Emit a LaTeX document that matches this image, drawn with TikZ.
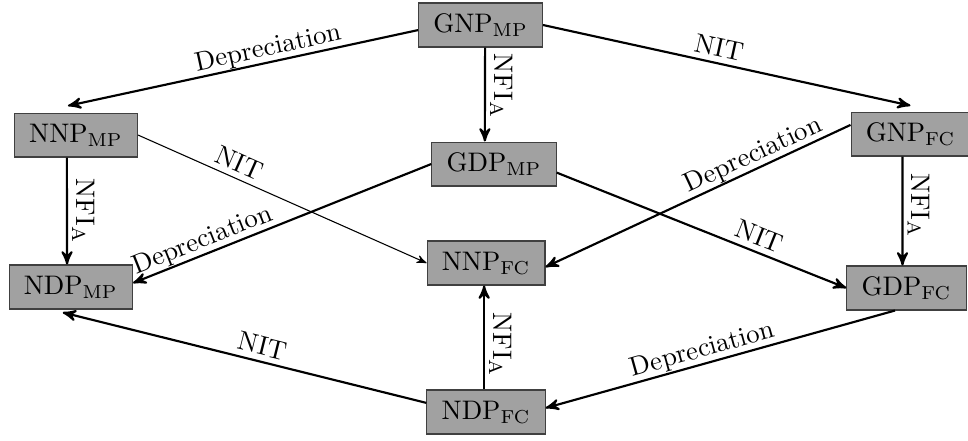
\documentclass[tikz,border=0pt]{standalone}
\usepackage{amssymb}
\usepackage{color}
\usepackage{tikz}
\usetikzlibrary{arrows}

\definecolor{boxgray}{gray}{0.63}
\definecolor{rimgray}{gray}{0.25}

\begin{document}
\begin{tikzpicture}[>=stealth',
    acct/.style={draw=rimgray,fill=boxgray,thin,inner xsep=5.5pt,minimum height=16.4pt},
    elbl/.style={above,sloped,inner sep=.5pt,text depth=1.6pt},
    vlbl/.style={rotate=-90,anchor=south,inner sep=1.5pt}]
  \useasboundingbox (0,0) rectangle (12.687,5.767);
  \node[acct] (GNPmp) at (6.298,5.439) {GNP$_\mathrm{MP}$};
  \node[acct] (NNPmp) at (0.996,3.997) {NNP$_\mathrm{MP}$};
  \node[acct] (GDPmp) at (6.474,3.617) {GDP$_\mathrm{MP}$};
  \node[acct] (GNPfc) at (11.933,4.010) {GNP$_\mathrm{FC}$};
  \node[acct] (NDPmp) at (0.928,2.005) {NDP$_\mathrm{MP}$};
  \node[acct] (NNPfc) at (6.370,2.320) {NNP$_\mathrm{FC}$};
  \node[acct] (GDPfc) at (11.881,1.992) {GDP$_\mathrm{FC}$};
  \node[acct] (NDPfc) at (6.370,0.367) {NDP$_\mathrm{FC}$};

  \path[->,thick]
    ([yshift=-1.9pt]GNPmp.west) edge node[elbl,pos=.42] {Depreciation} ([xshift=-3pt,yshift=2.5pt]NNPmp.north)
    (GNPmp.east) edge node[elbl,pos=.47] {NIT} ([yshift=2.2pt]GNPfc.north)
    ([xshift=1.7pt]GNPmp.south) edge node[vlbl,pos=.41] {NFI$_\mathrm{A}$} ([xshift=-3.4pt]GDPmp.north)
    ([xshift=-3.4pt]NNPmp.south) edge node[vlbl] {NFI$_\mathrm{A}$} ([xshift=-1.4pt]NDPmp.north)
    (NNPmp.east) edge[thin] node[elbl,pos=.33] {NIT} (NNPfc.west)
    (GDPmp.west) edge node[elbl,pos=.75] {Depreciation} ([yshift=1.5pt]NDPmp.east)
    ([yshift=-3.2pt]GDPmp.east) edge node[elbl,pos=.68] {NIT} (GDPfc.west)
    ([yshift=3.4pt]GNPfc.west) edge node[elbl,pos=.3] {Depreciation} ([yshift=-1.5pt]NNPfc.east)
    ([xshift=-3pt]GNPfc.south) edge node[vlbl,pos=.45] {NFI$_\mathrm{A}$} ([xshift=-1.5pt]GDPfc.north)
    ([xshift=-.7pt]NDPfc.north) edge node[vlbl,pos=.43] {NFI$_\mathrm{A}$} ([xshift=-.7pt]NNPfc.south)
    ([yshift=3.4pt]NDPfc.west) edge node[elbl,pos=.46] {NIT} ([xshift=-3pt,yshift=-1.1pt]NDPmp.south)
    ([xshift=-4.3pt]GDPfc.south) edge node[elbl,pos=.54] {Depreciation} ([yshift=1.5pt]NDPfc.east);
\end{tikzpicture}
\end{document}
